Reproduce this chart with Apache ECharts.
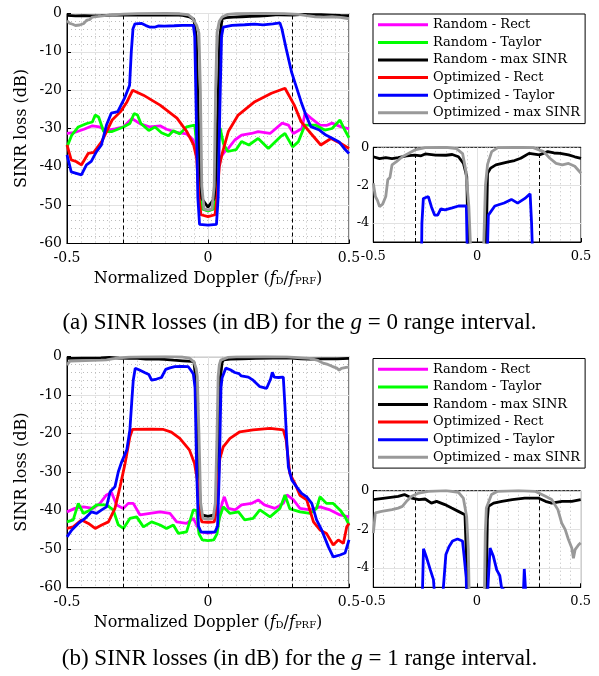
<!DOCTYPE html>
<html><head><meta charset="utf-8">
<script src="https://cdn.jsdelivr.net/npm/echarts@6/dist/echarts.min.js"></script>
<style>html,body{margin:0;padding:0;background:#fff}#c{width:599px;height:676px}</style>
</head><body><div id="c"></div>
<script>
// ---------- data ----------
const seriesNames = ['Random - Rect','Random - Taylor','Random - max SINR','Optimized - Rect','Optimized - Taylor','Optimized - max SINR'];
const mainYTicks = [0,-10,-20,-30,-40,-50,-60];
const insetYTicks = [0,-2,-4];
const xTicks = [-0.5,0,0.5];
const captionA = '(a) SINR losses (in dB) for the {i|g} = 0 range interval.';
const captionB = '(b) SINR losses (in dB) for the {i|g} = 1 range interval.';

// panel (a): g = 0
const a_randRect = [[-0.5,-31.3],[-0.476,-31.1],[-0.44,-30.2],[-0.41,-29.3],[-0.385,-29.6],[-0.36,-30.5],[-0.33,-30.1],[-0.3,-29.6],[-0.27,-27.4],[-0.24,-28.8],[-0.205,-29.6],[-0.17,-29.3],[-0.147,-30.2],[-0.112,-31],[-0.076,-31.4],[-0.052,-33],[-0.035,-37],[-0.028,-45],[-0.02,-51],[0,-51.5],[0.02,-51],[0.028,-45],[0.035,-40],[0.045,-37.5],[0.06,-36],[0.072,-35.2],[0.095,-33],[0.119,-31.7],[0.154,-31.3],[0.178,-30.8],[0.22,-31.3],[0.263,-28.6],[0.285,-29.1],[0.303,-31.3],[0.333,-30],[0.344,-26],[0.365,-27.3],[0.397,-29.1],[0.42,-29.2],[0.44,-28.6],[0.47,-29.5],[0.5,-30.1]];
const a_randTaylor = [[-0.5,-34.8],[-0.483,-31.7],[-0.46,-29.6],[-0.43,-28.7],[-0.41,-28.3],[-0.4,-26.5],[-0.388,-27],[-0.37,-30.8],[-0.34,-30.8],[-0.3,-29.6],[-0.277,-28.7],[-0.262,-26.1],[-0.25,-26.5],[-0.238,-28.7],[-0.21,-30.5],[-0.188,-29.6],[-0.165,-31.1],[-0.14,-31.9],[-0.123,-30.6],[-0.1,-31.4],[-0.076,-29.6],[-0.047,-29.1],[-0.038,-36],[-0.03,-45],[-0.02,-51],[0,-51.5],[0.02,-51],[0.03,-45],[0.038,-33],[0.043,-29.9],[0.055,-34],[0.07,-36],[0.1,-35.5],[0.119,-33.4],[0.145,-34.3],[0.178,-32.6],[0.214,-35.2],[0.256,-32.2],[0.273,-31.3],[0.3,-34.8],[0.32,-33.5],[0.344,-29.1],[0.38,-29.1],[0.414,-30.4],[0.44,-30],[0.468,-27.8],[0.485,-30.4],[0.5,-32.4]];
const a_randMaxSinr = [[-0.5,-0.5],[-0.47,-0.6],[-0.44,-0.55],[-0.41,-0.6],[-0.38,-0.55],[-0.34,-0.45],[-0.3,-0.41],[-0.27,-0.45],[-0.25,-0.35],[-0.2,-0.41],[-0.15,-0.42],[-0.12,-0.38],[-0.09,-0.5],[-0.066,-0.85],[-0.05,-1.55],[-0.042,-6],[-0.035,-25],[-0.025,-48],[0,-50.5],[0.025,-48],[0.035,-25],[0.042,-6],[0.05,-1.37],[0.065,-1.1],[0.09,-0.93],[0.12,-0.85],[0.15,-0.77],[0.18,-0.7],[0.21,-0.58],[0.25,-0.32],[0.3,-0.4],[0.34,-0.23],[0.37,-0.3],[0.4,-0.32],[0.44,-0.4],[0.47,-0.5],[0.5,-0.58]];
const a_optRect = [[-0.5,-34.3],[-0.485,-38.2],[-0.468,-38.6],[-0.449,-39.5],[-0.425,-36.5],[-0.405,-36.2],[-0.377,-33.4],[-0.34,-27.8],[-0.31,-25.6],[-0.287,-23],[-0.267,-20],[-0.229,-21.3],[-0.17,-23.9],[-0.11,-27.3],[-0.075,-30.8],[-0.051,-34.3],[-0.04,-37.8],[-0.032,-48],[-0.025,-52.5],[0,-53],[0.025,-52.5],[0.032,-48],[0.04,-40],[0.049,-36.9],[0.072,-30.8],[0.107,-26.5],[0.166,-23],[0.225,-20.8],[0.273,-19.5],[0.306,-23.9],[0.33,-28.2],[0.365,-31.3],[0.4,-34.3],[0.436,-32.6],[0.471,-33.9],[0.5,-35.2]];
const a_optTaylor = [[-0.5,-36.9],[-0.485,-41.3],[-0.467,-41.7],[-0.449,-42.1],[-0.431,-39.5],[-0.414,-38.6],[-0.396,-36.1],[-0.378,-34.3],[-0.36,-29.1],[-0.343,-26],[-0.32,-25.6],[-0.296,-22.1],[-0.278,-18.7],[-0.272,-10],[-0.266,-4],[-0.259,-2.7],[-0.235,-2.6],[-0.22,-3.15],[-0.205,-3.58],[-0.19,-3.58],[-0.175,-3.25],[-0.155,-3.3],[-0.12,-3.2],[-0.09,-3.1],[-0.052,-3.1],[-0.047,-6],[-0.042,-25],[-0.036,-48],[-0.03,-55],[0,-55.2],[0.03,-55],[0.036,-48],[0.042,-25],[0.048,-6],[0.054,-3.58],[0.085,-3.1],[0.13,-2.94],[0.165,-2.75],[0.195,-2.95],[0.23,-2.7],[0.255,-2.45],[0.262,-4],[0.277,-9.1],[0.296,-15.2],[0.306,-17.5],[0.33,-23],[0.347,-26.5],[0.365,-29.5],[0.395,-30.4],[0.418,-31.7],[0.442,-32.6],[0.465,-33.5],[0.483,-35.2],[0.5,-36.5]];
const a_optMaxSinr = [[-0.5,-1.9],[-0.49,-2.6],[-0.48,-2.8],[-0.47,-3.13],[-0.455,-3.0],[-0.44,-2.6],[-0.43,-1.7],[-0.42,-1.6],[-0.41,-0.93],[-0.39,-0.77],[-0.36,-0.5],[-0.3,-0.14],[-0.25,-0.02],[-0.15,0],[-0.1,-0.07],[-0.07,-0.33],[-0.055,-1.2],[-0.04,-3.1],[-0.032,-5.2],[-0.027,-20],[-0.022,-45],[-0.014,-51],[0,-51.2],[0.014,-51],[0.022,-45],[0.027,-20],[0.032,-5],[0.04,-2],[0.05,-0.9],[0.07,-0.23],[0.1,-0.02],[0.2,0],[0.27,-0.02],[0.32,-0.23],[0.35,-0.58],[0.38,-0.85],[0.41,-0.93],[0.44,-0.85],[0.47,-1.0],[0.5,-1.37]];

// panel (b): g = 1
const b_randRect = [[-0.5,-40.3],[-0.472,-39.4],[-0.442,-39],[-0.407,-39.4],[-0.383,-38.1],[-0.36,-35.9],[-0.342,-35.3],[-0.324,-38.5],[-0.3,-39.4],[-0.283,-38.1],[-0.265,-38.1],[-0.241,-41.1],[-0.206,-40.7],[-0.17,-40.3],[-0.135,-40.7],[-0.111,-42.9],[-0.076,-43.3],[-0.052,-42],[-0.038,-44],[-0.03,-45.5],[0,-45.8],[0.03,-45.5],[0.04,-42],[0.05,-38],[0.058,-36.4],[0.072,-39.4],[0.096,-39.8],[0.119,-38.5],[0.154,-38.1],[0.178,-37.2],[0.2,-38.5],[0.237,-39.4],[0.267,-38.1],[0.28,-35.9],[0.303,-37.2],[0.326,-39.4],[0.362,-39.8],[0.397,-39],[0.433,-39.8],[0.468,-41.1],[0.5,-41.6]];
const b_randTaylor = [[-0.5,-42.9],[-0.478,-42.4],[-0.46,-38.1],[-0.442,-40.7],[-0.418,-39.8],[-0.395,-38.5],[-0.36,-38.5],[-0.336,-39.8],[-0.318,-43.7],[-0.3,-44.6],[-0.277,-42],[-0.253,-41.6],[-0.229,-44.2],[-0.2,-42.9],[-0.17,-43.7],[-0.147,-44.6],[-0.123,-43.7],[-0.105,-45.9],[-0.076,-45.5],[-0.052,-39.8],[-0.04,-40],[-0.032,-46],[-0.02,-47.6],[0,-47.8],[0.02,-47.6],[0.032,-46],[0.04,-42],[0.054,-39],[0.078,-40.7],[0.108,-40.3],[0.13,-42.4],[0.16,-42],[0.184,-39.8],[0.22,-41.6],[0.255,-39.4],[0.273,-35.9],[0.29,-39.5],[0.303,-39.8],[0.326,-40.3],[0.362,-40.7],[0.385,-39.4],[0.397,-36.4],[0.42,-38.1],[0.444,-38.1],[0.468,-39.8],[0.486,-41.6],[0.5,-43.7]];
const b_randMaxSinr = [[-0.5,-0.46],[-0.444,-0.38],[-0.38,-0.29],[-0.35,-0.2],[-0.315,-0.38],[-0.28,-0.46],[-0.25,-0.43],[-0.22,-0.64],[-0.195,-0.55],[-0.155,-0.72],[-0.122,-0.9],[-0.09,-1.07],[-0.058,-1.24],[-0.05,-1.33],[-0.043,-6],[-0.036,-25],[-0.026,-41],[0,-41.5],[0.026,-41],[0.036,-25],[0.043,-6],[0.05,-1.5],[0.055,-0.81],[0.08,-0.64],[0.12,-0.55],[0.17,-0.46],[0.23,-0.38],[0.295,-0.38],[0.33,-0.55],[0.36,-0.64],[0.41,-0.55],[0.457,-0.55],[0.5,-0.46]];
const b_optRect = [[-0.5,-44.6],[-0.478,-44.2],[-0.448,-42.4],[-0.424,-43.3],[-0.4,-44.6],[-0.377,-43.7],[-0.353,-42.9],[-0.33,-39.4],[-0.312,-33.8],[-0.294,-27.7],[-0.277,-20.8],[-0.268,-18.9],[-0.2,-18.8],[-0.158,-18.9],[-0.13,-19.6],[-0.1,-21.2],[-0.066,-24.2],[-0.048,-27.7],[-0.036,-32.8],[-0.03,-40],[-0.022,-42.9],[0,-43],[0.022,-42.9],[0.03,-40],[0.036,-32],[0.042,-26.5],[0.054,-23.4],[0.078,-21.2],[0.113,-19.5],[0.16,-19],[0.22,-18.6],[0.267,-19],[0.277,-21.6],[0.29,-30.3],[0.308,-32.9],[0.326,-36],[0.35,-37.2],[0.374,-42.9],[0.397,-45],[0.42,-45.9],[0.444,-48.9],[0.462,-47.6],[0.48,-48.5],[0.492,-44.2],[0.5,-43.3]];
const b_optTaylor = [[-0.5,-46.8],[-0.483,-45],[-0.46,-43.3],[-0.436,-42],[-0.413,-40.3],[-0.395,-40.7],[-0.377,-39.8],[-0.36,-39],[-0.347,-35.1],[-0.33,-33.8],[-0.318,-29.9],[-0.306,-27.3],[-0.288,-24.2],[-0.277,-19],[-0.27,-11.3],[-0.265,-6.1],[-0.258,-3.0],[-0.245,-3.4],[-0.225,-4.1],[-0.21,-4.6],[-0.2,-6.1],[-0.182,-5.8],[-0.165,-5.4],[-0.15,-3.3],[-0.135,-2.9],[-0.118,-2.6],[-0.094,-2.5],[-0.07,-2.6],[-0.062,-3.4],[-0.052,-4.5],[-0.046,-8],[-0.04,-30],[-0.034,-44],[-0.025,-45.5],[0,-45.6],[0.025,-45.5],[0.034,-44],[0.04,-30],[0.046,-8],[0.05,-5.5],[0.063,-2.97],[0.079,-3.4],[0.095,-4.1],[0.11,-4.4],[0.118,-5.0],[0.143,-5.3],[0.16,-6.1],[0.184,-7.8],[0.208,-8.2],[0.222,-5.8],[0.228,-4.05],[0.235,-5.3],[0.25,-5.4],[0.267,-5.3],[0.273,-13],[0.279,-21.6],[0.285,-28.6],[0.297,-32],[0.314,-33.8],[0.332,-35.5],[0.35,-36.4],[0.368,-38.1],[0.385,-42.4],[0.403,-45],[0.427,-49.4],[0.444,-52],[0.468,-51.5],[0.486,-51],[0.5,-47.6]];
const b_optMaxSinr = [[-0.5,-2.2],[-0.49,-1.15],[-0.46,-1.07],[-0.41,-0.98],[-0.38,-0.9],[-0.36,-0.81],[-0.34,-0.55],[-0.315,-0.29],[-0.28,-0.12],[-0.235,-0.03],[-0.15,0],[-0.09,-0.08],[-0.066,-0.38],[-0.05,-1.33],[-0.042,-3.05],[-0.038,-5.1],[-0.032,-20],[-0.026,-38],[-0.018,-42],[0,-42.2],[0.018,-42],[0.026,-38],[0.032,-20],[0.036,-5.1],[0.04,-2.2],[0.045,-0.9],[0.07,-0.2],[0.1,-0.03],[0.2,0],[0.28,-0.03],[0.33,-0.29],[0.36,-0.46],[0.39,-0.98],[0.408,-1.67],[0.425,-2.0],[0.44,-2.5],[0.457,-2.97],[0.465,-3.5],[0.473,-3.05],[0.49,-2.8],[0.5,-2.7]];

const panelA = [a_randRect,a_randTaylor,a_randMaxSinr,a_optRect,a_optTaylor,a_optMaxSinr];
const panelB = [b_randRect,b_randTaylor,b_randMaxSinr,b_optRect,b_optTaylor,b_optMaxSinr];

// ---------- styles ----------
const colors = ['#ff00ff','#00ff00','#000000','#ff0000','#0000ff','#999999'];
const SERIF = 'DejaVu Serif';
const TIMES = 'Liberation Serif';
const MAJ = '#e2e2e2', MIN = '#bdbdbd';

const grids = [
  {left:67, top:13.5, width:282, height:230},
  {left:373.3, top:147.3, width:207.7, height:94.7},
  {left:67, top:356.7, width:282, height:231},
  {left:373.3, top:490.7, width:207.4, height:96.6}
].map(g => Object.assign({show:true, borderColor:'#000', borderWidth:1, backgroundColor:'#fff', containLabel:false}, g));

function xAx(gi, main){
  const o = {gridIndex:gi, type:'value', min:-0.5, max:0.5, interval:0.5,
    axisLine:{onZero:false, lineStyle:{color:'#000', width:1}},
    axisTick:{inside:true, length:4, lineStyle:{color:'#000'}},
    axisLabel:{color:'#000', fontFamily:SERIF, fontSize: main?14:13, margin: main?8:8, formatter:v=>String(v)},
    splitLine:{show:true, lineStyle:{color:MAJ, width:1}},
    minorTick:{show:false, splitNumber:10},
    minorSplitLine:{show:true, lineStyle:{color:MIN, width:1, type:[1,3]}}
  };
  if(main){
    o.name = '{n|Normalized Doppler (}{i|f}{s|D}{n|/}{i|f}{s|PRF}{n|)}';
    o.nameLocation = 'middle'; o.nameGap = 27;
    o.nameTextStyle = {color:'#000', fontFamily:SERIF, fontSize:16, rich:{
      n:{fontFamily:SERIF, fontSize:16, color:'#000'},
      i:{fontFamily:SERIF, fontSize:16, fontStyle:'italic', color:'#000'},
      s:{fontFamily:SERIF, fontSize:10, color:'#000', verticalAlign:'bottom', lineHeight:6}
    }};
  }
  return o;
}
function yAxMain(gi){
  return {gridIndex:gi, type:'value', min:-60, max:0, interval:10,
    axisLine:{onZero:false, lineStyle:{color:'#000', width:1}},
    axisTick:{inside:true, length:4, lineStyle:{color:'#000'}},
    axisLabel:{color:'#000', fontFamily:SERIF, fontSize:14, margin:5},
    splitLine:{show:true, lineStyle:{color:MAJ, width:1}},
    minorTick:{show:false, splitNumber:5},
    minorSplitLine:{show:true, lineStyle:{color:MIN, width:1, type:[1,3]}},
    name:'SINR loss (dB)', nameLocation:'middle', nameGap:37,
    nameTextStyle:{color:'#000', fontFamily:SERIF, fontSize:16}
  };
}
function yAxInset(gi){
  return {gridIndex:gi, type:'value', min:-5, max:0, interval:0.5,
    axisLine:{onZero:false, lineStyle:{color:'#000', width:1}},
    axisTick:{inside:true, length:4, lineStyle:{color:'#000'}, customValues:insetYTicks},
    axisLabel:{color:'#000', fontFamily:SERIF, fontSize:13, margin:4, customValues:insetYTicks},
    splitLine:{show:true, lineStyle:{color:MIN, width:1, type:[1,3]}}
  };
}

const series = [];
[[panelA,0],[panelA,1],[panelB,2],[panelB,3]].forEach(([panel,gi])=>{
  const inset = gi===1 || gi===3;
  panel.forEach((data,k)=>{
    const s = {type:'line', name:seriesNames[k], data:data, xAxisIndex:gi, yAxisIndex:gi,
      symbol:'none', showSymbol:false, clip:true, animation:false, color:colors[k],
      lineStyle:{color:colors[k], width:2.8}, itemStyle:{color:colors[k]}, z:3+k};
    if(k===0){
      const ml = [
        {xAxis:-0.3, lineStyle:{color:'#000', width:1, type:[4,3]}},
        {xAxis:0.3, lineStyle:{color:'#000', width:1, type:[4,3]}}
      ];
      if(inset){
        ml.unshift({yAxis:-2, lineStyle:{color:MAJ, width:1, type:'solid'}});
        ml.unshift({yAxis:-4, lineStyle:{color:MAJ, width:1, type:'solid'}});
      }
      s.markLine = {silent:true, symbol:['none','none'], label:{show:false}, animation:false, data:ml};
    }
    series.push(s);
  });
});

function legendAt(top){
  return {show:true, orient:'vertical', left:373, top:top, data:seriesNames, icon:'rect',
    itemWidth:50, itemHeight:3, itemGap:0, padding:[2,5,2,5],
    borderColor:'#000', borderWidth:1, backgroundColor:'#fff',
    textStyle:{color:'#000', fontFamily:SERIF, fontSize:13, lineHeight:17.6},
    selectedMode:false};
}

const capStyle = {color:'#000', fontFamily:TIMES, fontSize:23, fontWeight:'normal',
  rich:{i:{fontFamily:TIMES, fontSize:23, fontStyle:'italic', color:'#000'}}};

const option = {
  animation:false,
  backgroundColor:'#fff',
  grid:grids,
  xAxis:[xAx(0,true), xAx(1,false), xAx(2,true), xAx(3,false)],
  yAxis:[yAxMain(0), yAxInset(1), yAxMain(2), yAxInset(3)],
  legend:[legendAt(14), legendAt(358.5)],
  title:[
    {text:captionA, left:'center', top:306, textStyle:capStyle},
    {text:captionB, left:'center', top:642, textStyle:capStyle}
  ],
  series:series
};
const chart = echarts.init(document.getElementById('c'), null, {renderer:'canvas', width:599, height:676});
chart.setOption(option);
</script>
</body></html>
